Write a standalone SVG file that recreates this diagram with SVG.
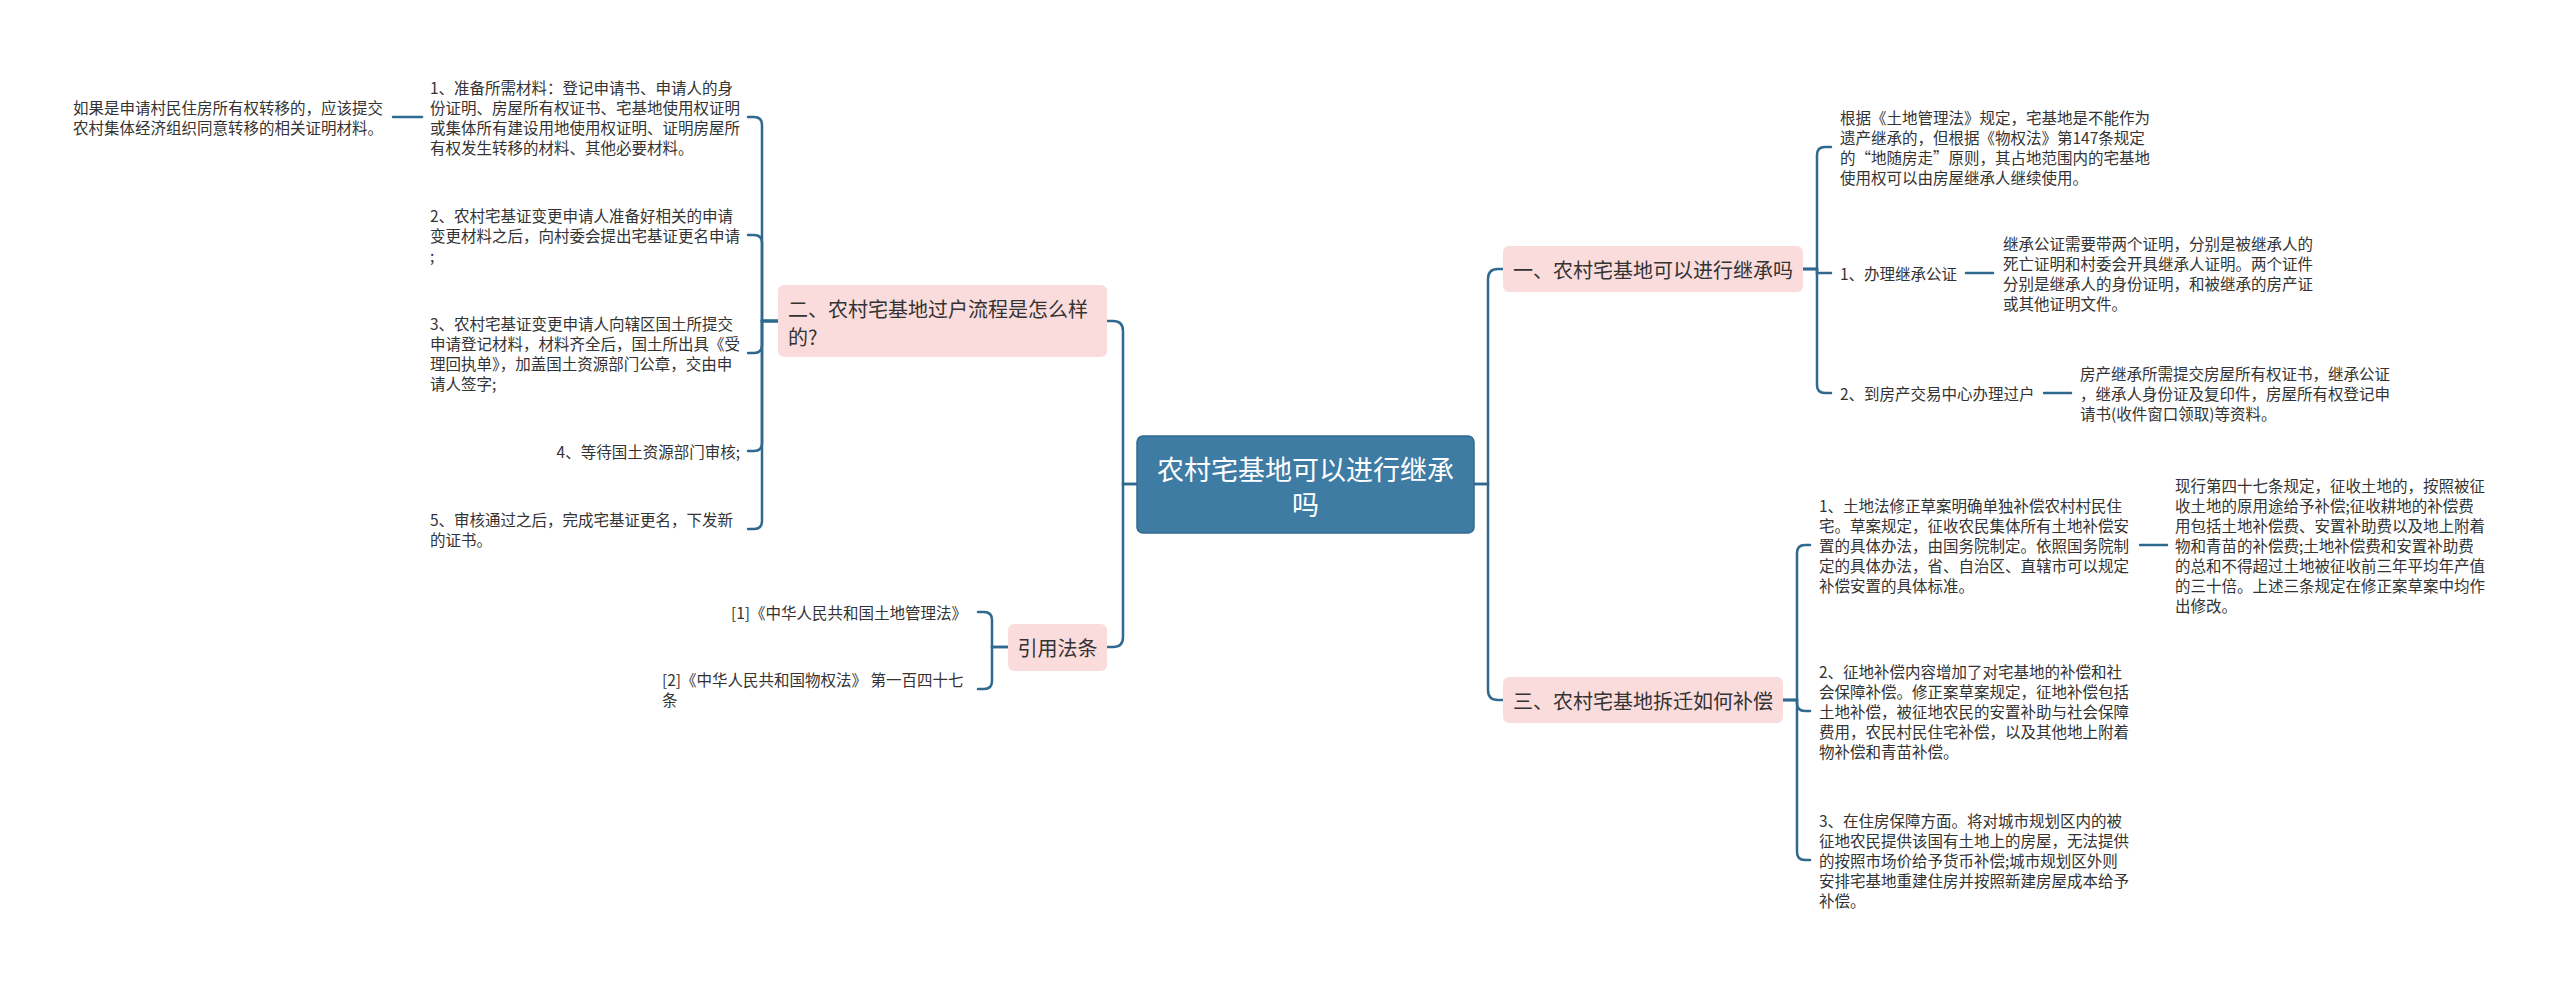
<svg xmlns="http://www.w3.org/2000/svg" width="2560" height="983" viewBox="0 0 2560 983">
<style>
text{font-family:"Noto Sans CJK SC","Noto Sans",sans-serif;fill:#333;dominant-baseline:central}
.t{font-size:15.5px}
.b{font-size:20px}
.r{font-size:27px;fill:#fff;text-anchor:middle}
.e{text-anchor:end}
.pink{fill:#fadcdc}
.conn path{fill:none;stroke:#30698f;stroke-width:2.5;stroke-linecap:round}
</style>
<rect width="2560" height="983" fill="#fff"/>
<g class="conn" id="connectors">
<path d="M1137 484 H1123 V331 Q1123 321 1113 321 H1107"/>
<path d="M1137 484 H1123 V637 Q1123 647 1113 647 H1107"/>
<path d="M1474 484 H1488 V279 Q1488 269 1498 269 H1503"/>
<path d="M1474 484 H1488 V690 Q1488 700 1498 700 H1503"/>
<path d="M778 321 H762 V125 Q762 117 754 117 H748"/>
<path d="M778 321 H762 V243 Q762 235 754 235 H748"/>
<path d="M778 321 H762 V345 Q762 353 754 353 H748"/>
<path d="M778 321 H762 V443 Q762 451 754 451 H748"/>
<path d="M778 321 H762 V521 Q762 529 754 529 H748"/>
<path d="M422 117 H393"/>
<path d="M1008 647 H992 V620 Q992 612 984 612 H978"/>
<path d="M1008 647 H992 V681 Q992 689 984 689 H978"/>
<path d="M1803 269 H1817 V155 Q1817 147 1825 147 H1831"/>
<path d="M1803 269 H1817 V273 H1831"/>
<path d="M1803 269 H1817 V385 Q1817 393 1825 393 H1831"/>
<path d="M1966 273 H1993"/>
<path d="M2044 393 H2071"/>
<path d="M1783 700 H1797 V553 Q1797 545 1805 545 H1810"/>
<path d="M1783 700 H1797 V703 Q1797 711 1805 711 H1810"/>
<path d="M1783 700 H1797 V852 Q1797 860 1805 860 H1810"/>
<path d="M2140 545 H2167"/>
</g>
<g id="root">
<rect x="1137" y="436" width="337" height="97" rx="6" fill="#3e7ca4" stroke="#32698f" stroke-width="1.5"/>
<text class="r" x="1305.5" y="468">农村宅基地可以进行继承</text>
<text class="r" x="1305.5" y="503">吗</text>
</g>
<g id="n2">
<rect class="pink" x="778" y="285" width="329" height="72" rx="6"/>
<text class="b" x="788" y="308">二、农村宅基地过户流程是怎么样</text>
<text class="b" x="788" y="336">的?</text>
</g>
<g id="n2c1">
<text class="t" x="430" y="87">1、准备所需材料：登记申请书、申请人的身</text>
<text class="t" x="430" y="107">份证明、房屋所有权证书、宅基地使用权证明</text>
<text class="t" x="430" y="127">或集体所有建设用地使用权证明、证明房屋所</text>
<text class="t" x="430" y="147">有权发生转移的材料、其他必要材料。</text>
</g>
<g id="n2c1g">
<text class="t" x="73" y="107">如果是申请村民住房所有权转移的，应该提交</text>
<text class="t" x="73" y="127">农村集体经济组织同意转移的相关证明材料。</text>
</g>
<g id="n2c2">
<text class="t" x="430" y="215">2、农村宅基证变更申请人准备好相关的申请</text>
<text class="t" x="430" y="235">变更材料之后，向村委会提出宅基证更名申请</text>
<text class="t" x="430" y="255">;</text>
</g>
<g id="n2c3">
<text class="t" x="430" y="323">3、农村宅基证变更申请人向辖区国土所提交</text>
<text class="t" x="430" y="343">申请登记材料，材料齐全后，国土所出具《受</text>
<text class="t" x="430" y="363">理回执单》，加盖国土资源部门公章，交由申</text>
<text class="t" x="430" y="383">请人签字;</text>
</g>
<g id="n2c4">
<text class="t e" x="740" y="451">4、等待国土资源部门审核;</text>
</g>
<g id="n2c5">
<text class="t" x="430" y="519">5、审核通过之后，完成宅基证更名，下发新</text>
<text class="t" x="430" y="539">的证书。</text>
</g>
<g id="law">
<rect class="pink" x="1008" y="624" width="99" height="47" rx="6"/>
<text class="b" x="1057.5" y="647" text-anchor="middle">引用法条</text>
</g>
<g id="law1">
<text class="t e" x="967" y="612">[1]《中华人民共和国土地管理法》</text>
</g>
<g id="law2">
<text class="t" x="662" y="679">[2]《中华人民共和国物权法》 第一百四十七</text>
<text class="t" x="662" y="699">条</text>
</g>
<g id="n1">
<rect class="pink" x="1503" y="246" width="300" height="46" rx="6"/>
<text class="b" x="1513" y="269">一、农村宅基地可以进行继承吗</text>
</g>
<g id="n1c1">
<text class="t" x="1840" y="117">根据《土地管理法》规定，宅基地是不能作为</text>
<text class="t" x="1840" y="137">遗产继承的，但根据《物权法》第147条规定</text>
<text class="t" x="1840" y="157">的“地随房走”原则，其占地范围内的宅基地</text>
<text class="t" x="1840" y="177">使用权可以由房屋继承人继续使用。</text>
</g>
<g id="n1c2">
<text class="t" x="1840" y="273">1、办理继承公证</text>
</g>
<g id="n1c2g">
<text class="t" x="2003" y="243">继承公证需要带两个证明，分别是被继承人的</text>
<text class="t" x="2003" y="263">死亡证明和村委会开具继承人证明。两个证件</text>
<text class="t" x="2003" y="283">分别是继承人的身份证明，和被继承的房产证</text>
<text class="t" x="2003" y="303">或其他证明文件。</text>
</g>
<g id="n1c3">
<text class="t" x="1840" y="393">2、到房产交易中心办理过户</text>
</g>
<g id="n1c3g">
<text class="t" x="2080" y="373">房产继承所需提交房屋所有权证书，继承公证</text>
<text class="t" x="2080" y="393">，继承人身份证及复印件，房屋所有权登记申</text>
<text class="t" x="2080" y="413">请书(收件窗口领取)等资料。</text>
</g>
<g id="n3">
<rect class="pink" x="1503" y="677" width="280" height="46" rx="6"/>
<text class="b" x="1513" y="700">三、农村宅基地拆迁如何补偿</text>
</g>
<g id="n3c1">
<text class="t" x="1819" y="505">1、土地法修正草案明确单独补偿农村村民住</text>
<text class="t" x="1819" y="525">宅。草案规定，征收农民集体所有土地补偿安</text>
<text class="t" x="1819" y="545">置的具体办法，由国务院制定。依照国务院制</text>
<text class="t" x="1819" y="565">定的具体办法，省、自治区、直辖市可以规定</text>
<text class="t" x="1819" y="585">补偿安置的具体标准。</text>
</g>
<g id="n3c1g">
<text class="t" x="2175" y="485">现行第四十七条规定，征收土地的，按照被征</text>
<text class="t" x="2175" y="505">收土地的原用途给予补偿;征收耕地的补偿费</text>
<text class="t" x="2175" y="525">用包括土地补偿费、安置补助费以及地上附着</text>
<text class="t" x="2175" y="545">物和青苗的补偿费;土地补偿费和安置补助费</text>
<text class="t" x="2175" y="565">的总和不得超过土地被征收前三年平均年产值</text>
<text class="t" x="2175" y="585">的三十倍。上述三条规定在修正案草案中均作</text>
<text class="t" x="2175" y="605">出修改。</text>
</g>
<g id="n3c2">
<text class="t" x="1819" y="671">2、征地补偿内容增加了对宅基地的补偿和社</text>
<text class="t" x="1819" y="691">会保障补偿。修正案草案规定，征地补偿包括</text>
<text class="t" x="1819" y="711">土地补偿，被征地农民的安置补助与社会保障</text>
<text class="t" x="1819" y="731">费用，农民村民住宅补偿，以及其他地上附着</text>
<text class="t" x="1819" y="751">物补偿和青苗补偿。</text>
</g>
<g id="n3c3">
<text class="t" x="1819" y="820">3、在住房保障方面。将对城市规划区内的被</text>
<text class="t" x="1819" y="840">征地农民提供该国有土地上的房屋，无法提供</text>
<text class="t" x="1819" y="860">的按照市场价给予货币补偿;城市规划区外则</text>
<text class="t" x="1819" y="880">安排宅基地重建住房并按照新建房屋成本给予</text>
<text class="t" x="1819" y="900">补偿。</text>
</g>
</svg>
